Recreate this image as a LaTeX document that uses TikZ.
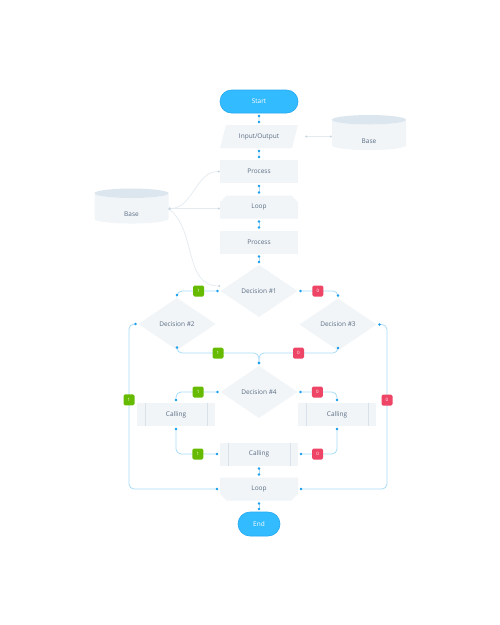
\documentclass[tikz,border=0pt]{standalone}
\usepackage{fontspec}
\setmainfont{Open Sans}
\usetikzlibrary{shapes.geometric, shapes.misc, arrows.meta}
\definecolor{BoxFill}{HTML}{F1F5F8}
\definecolor{BaseTop}{HTML}{DCE6EF}
\definecolor{CallLine}{HTML}{D9E2EA}
\definecolor{TextGray}{HTML}{5B6C82}
\definecolor{SkyBlue}{HTML}{33BBFF}
\definecolor{SkyEdge}{HTML}{22A8F0}
\definecolor{WireBlue}{HTML}{A9DCF7}
\definecolor{DotBlue}{HTML}{1EA0EE}
\definecolor{WireGray}{HTML}{E3EBF1}
\definecolor{DotGray}{HTML}{C9D6E0}
\definecolor{YesGreen}{HTML}{66BB00}
\definecolor{NoRed}{HTML}{EE4466}

\begin{document}
\begin{tikzpicture}[
        x=1pt, y=-1pt,
        every node/.style={font=\fontsize{6.5}{8}\selectfont, text=TextGray, inner sep=0pt},
        block/.style={fill=BoxFill, minimum width=78pt, minimum height=23pt},
        term/.style={fill=SkyBlue, draw=SkyEdge, line width=0.6pt, rounded corners=11.5pt, minimum height=23pt, text=white},
        io/.style={block, trapezium, trapezium left angle=60, trapezium right angle=120, trapezium stretches=true},
        looptop/.style={block, chamfered rectangle, chamfered rectangle corners={north west, north east}, chamfered rectangle xsep=5pt},
        loopbot/.style={block, chamfered rectangle, chamfered rectangle corners={south west, south east}, chamfered rectangle xsep=7pt},
        decision/.style={diamond, fill=BoxFill, minimum width=77pt, minimum height=52pt, aspect=1.5},
        calling/.style={block, path picture={
            \draw[CallLine, line width=0.7pt]
                ([xshift=8pt]path picture bounding box.north west) -- ([xshift=8pt]path picture bounding box.south west)
                ([xshift=-8pt]path picture bounding box.north east) -- ([xshift=-8pt]path picture bounding box.south east);}},
        base/.style={cylinder, shape border rotate=90, aspect=0.65, minimum width=74pt, minimum height=35pt,
            cylinder uses custom fill, cylinder body fill=BoxFill, cylinder end fill=BaseTop},
        wire/.style={draw=WireBlue, line width=0.8pt, rounded corners=5pt,
            {Circle[length=2.5pt, color=DotBlue]}-{Circle[length=2.5pt, color=DotBlue]}, shorten <=1.5pt, shorten >=1.5pt},
        graywire/.style={draw=WireGray, line width=0.7pt,
            {Circle[length=2pt, color=DotGray]}-{Circle[length=2pt, color=DotGray]}},
        yes/.style={fill=YesGreen, rounded corners=1.5pt, minimum size=11pt, text=white, font=\fontsize{4.5}{4.5}\selectfont},
        no/.style={fill=NoRed, rounded corners=1.5pt, minimum size=11pt, text=white, font=\fontsize{4.5}{4.5}\selectfont}
    ]
        \fill[white] (0,0) rectangle (500,625);
        \useasboundingbox (0,0) rectangle (500,625);

        % main column
        \node[term, minimum width=78pt] (start) at (259,101.5) {Start};
        \node[io] (io) at (259,136.5) {Input/Output};
        \node[block] (proc1) at (259,171.5) {Process};
        \node[looptop] (loop1) at (259,207) {Loop};
        \node[block] (proc2) at (259,242) {Process};
        \node[decision] (d1) at (259,291) {Decision \#1};
        \node[decision] (d2) at (177,324) {Decision \#2};
        \node[decision] (d3) at (338,324.5) {Decision \#3};
        \node[decision] (d4) at (259,392) {Decision \#4};
        \node[calling] (callL) at (176,414.5) {Calling};
        \node[calling] (callR) at (337,414.5) {Calling};
        \node[calling] (callM) at (259,454) {Calling};
        \node[loopbot] (loop2) at (259,489) {Loop};
        \node[term, minimum width=42pt, minimum height=24pt, rounded corners=12pt] (end) at (259,524) {End};

        % data stores
        \node[base] (baseR) at (369,135) {\raisebox{-8pt}[0pt][0pt]{Base}};
        \node[base] (baseL) at (131.5,208.5) {\raisebox{-8pt}[0pt][0pt]{Base}};

        \coordinate (jn) at (259,353);
        \coordinate (lx) at (129,324);
        \coordinate (rx) at (387,324.5);

        % flow
        \draw[wire] (start.south) -- (io.north);
        \draw[wire] (io.south) -- (proc1.north);
        \draw[wire] (proc1.south) -- (loop1.north);
        \draw[wire] (loop1.south) -- (proc2.north);
        \draw[wire] (proc2.south) -- (d1.north);
        \draw[wire] (d1.west) -| node[pos=0.25, yes] {1} (d2.north);
        \draw[wire] (d1.east) -| node[pos=0.25, no] {0} (d3.north);
        \draw[wire] (d2.south) |- node[pos=0.75, yes] {1} (jn) -- (d4.north);
        \draw[wire] (d3.south) |- node[pos=0.75, no] {0} (jn) -- (d4.north);
        \draw[wire] (d2.west) -- (lx) |- node[pos=0.23, yes] {1} (loop2.west);
        \draw[wire] (d3.east) -- (rx) |- node[pos=0.23, no] {0} (loop2.east);
        \draw[wire] (d4.west) -| node[pos=0.25, yes] {1} (callL.north);
        \draw[wire] (d4.east) -| node[pos=0.25, no] {0} (callR.north);
        \draw[wire] (callL.south) |- node[pos=0.75, yes] {1} (callM.west);
        \draw[wire] (callR.south) |- node[pos=0.75, no] {0} (callM.east);
        \draw[wire] (callM.south) -- (loop2.north);
        \draw[wire] (loop2.south) -- (end.north);

        % data links
        \draw[graywire] ([xshift=10pt]io.east) -- (io.east -| baseR.west);
        \draw[graywire] (baseL.east) to[out=0, in=180] (proc1.west);
        \draw[graywire] (baseL.east) -- (baseL.east -| loop1.west);
        \draw[graywire] (baseL.east) to[out=-40, in=180] ([yshift=5pt]d1.west);
    \end{tikzpicture}
\end{document}
